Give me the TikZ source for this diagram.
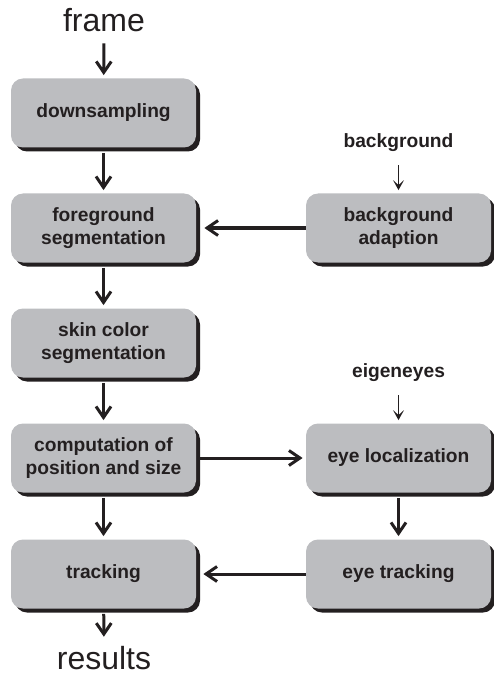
\documentclass[tikz,border=0pt]{standalone}
\usepackage{fontspec}
\setmainfont{Liberation Sans}
\usepackage{tikz}
\usetikzlibrary{arrows.meta,shadows}
\definecolor{boxgray}{RGB}{188,189,192}
\definecolor{inkblack}{RGB}{35,31,32}

\tikzset{
    stage/.style={fill=boxgray, rounded corners=6pt, minimum width=92.5pt,
        minimum height=34.5pt, inner sep=0pt, align=center, text=inkblack,
        font=\fontsize{9.6}{11.5}\selectfont\bfseries,
        drop shadow={shadow xshift=2pt, shadow yshift=-2pt, fill=inkblack, opacity=1}},
    extlabel/.style={text=inkblack, font=\fontsize{9.6}{11.5}\selectfont\bfseries},
    iolabel/.style={text=inkblack, font=\fontsize{16}{18}\selectfont, anchor=base},
    flow/.style={draw=inkblack, line width=1.5pt, -{Straight Barb[length=5.5pt,width=7.5pt]}},
    thinflow/.style={draw=inkblack, line width=0.6pt, -{Stealth[length=5pt,width=5.5pt,inset=2.5pt]}}
}

\begin{document}
\begin{tikzpicture}[x=0.5pt, y=-0.5pt]
    \useasboundingbox (0,0) rectangle (493,679);

    % input and output
    \node[iolabel] (frame) at (104,32) {frame};
    \node[iolabel] (results) at (104,669) {results};

    % main column
    \node[stage] (down) at (103.5,113) {downsampling};
    \node[stage] (fgseg) at (103.5,228) {foreground\\segmentation};
    \node[stage] (skin) at (103.5,343) {skin color\\segmentation};
    \node[stage] (comp) at (103.5,458) {computation of\\position and size};
    \node[stage] (track) at (103.5,574) {tracking};

    % side column
    \node[extlabel] (bglabel) at (398.5,143) {background};
    \node[stage] (bgadapt) at (398.5,228) {background\\adaption};
    \node[extlabel] (eigen) at (398.5,373) {eigeneyes};
    \node[stage] (eyeloc) at (398.5,458) {eye localization};
    \node[stage] (eyetrack) at (398.5,574) {eye tracking};

    % connectors
    \draw[flow, shorten <=2pt, shorten >=1.5pt] (frame) -- (down);
    \draw[flow, shorten <=2.5pt, shorten >=1.5pt] (down) -- (fgseg);
    \draw[flow, shorten <=2.5pt, shorten >=1.5pt] (fgseg) -- (skin);
    \draw[flow, shorten <=2.5pt, shorten >=1.5pt] (skin) -- (comp);
    \draw[flow, shorten <=2.5pt, shorten >=1.5pt] (comp) -- (track);
    \draw[flow, shorten <=2.5pt, shorten >=1pt] (track) -- (results);
    \draw[flow, shorten >=4pt] (bgadapt) -- (fgseg);
    \draw[flow, shorten <=2pt, shorten >=1.5pt] (comp) -- (eyeloc);
    \draw[flow, shorten <=2.5pt, shorten >=1.5pt] (eyeloc) -- (eyetrack);
    \draw[flow, shorten >=3.5pt] (eyetrack) -- (track);
    \draw[thinflow, shorten <=3pt, shorten >=1.5pt] (bglabel) -- (bgadapt);
    \draw[thinflow, shorten <=3pt, shorten >=1.5pt] (eigen) -- (eyeloc);
\end{tikzpicture}
\end{document}
